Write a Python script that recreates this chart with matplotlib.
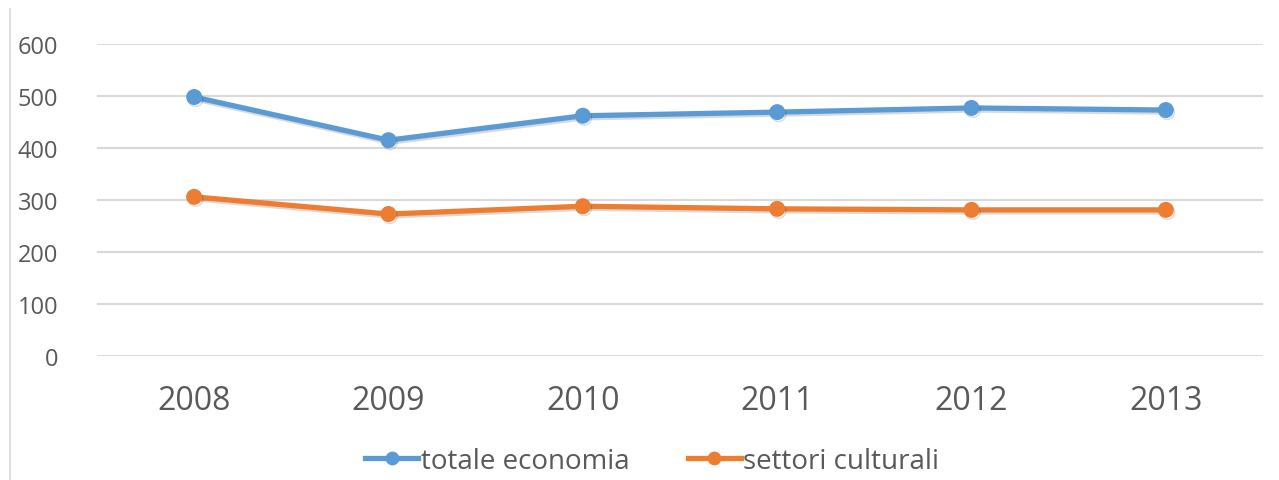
import matplotlib
matplotlib.use("Agg")
import matplotlib.pyplot as plt
import matplotlib.patheffects as pe
from matplotlib.lines import Line2D

anni = ["2008", "2009", "2010", "2011", "2012", "2013"]
totale_economia = [498, 415, 462, 469, 477, 473]
settori_culturali = [306, 273, 288, 283, 281, 281]

plt.rcParams['font.family'] = ['Open Sans', 'DejaVu Sans']
testo = '#595959'

fig = plt.figure(figsize=(12.79, 4.81), dpi=100)
ax = fig.add_axes([97 / 1279, 1 - 357 / 481, (1263 - 97) / 1279, (357 - 45) / 481])

x = range(len(anni))
ombra = [pe.SimpleLineShadow(offset=(1, -1.5), alpha=0.15, shadow_color='black'), pe.Normal()]
ax.plot(x, totale_economia, color='#5B9BD5', lw=3.8, marker='o', ms=10.5,
        label='totale economia', path_effects=ombra, zorder=3)
ax.plot(x, settori_culturali, color='#ED7D31', lw=3.8, marker='o', ms=10.5,
        label='settori culturali', path_effects=ombra, zorder=3)

ax.set_xlim(-0.5, len(anni) - 0.5)
ax.set_ylim(0, 600)
ax.set_yticks(range(0, 601, 100))
ax.set_xticks(list(x))
ax.set_xticklabels(anni, fontsize=23, color=testo)
ax.tick_params(axis='y', labelsize=17, colors=testo, length=0, pad=28)
ax.tick_params(axis='x', length=0, pad=20)
ax.grid(axis='y', color='#D9D9D9', lw=1.5)
ax.set_axisbelow(True)
for s in ax.spines.values():
    s.set_visible(False)

leg = fig.legend(loc='center', bbox_to_anchor=(0.51, 1 - 462 / 481), ncol=2, frameon=False,
                 fontsize=20, handlelength=1.9, handletextpad=0.1, columnspacing=2.1,
                 labelcolor=testo, markerscale=0.85)
for h in leg.legend_handles:
    h.set_path_effects([])

fig.add_artist(Line2D([10 / 1279, 10 / 1279], [0, 1 - 10 / 481], color='#D9D9D9', lw=1.2))

plt.savefig("out.png", dpi=100)
